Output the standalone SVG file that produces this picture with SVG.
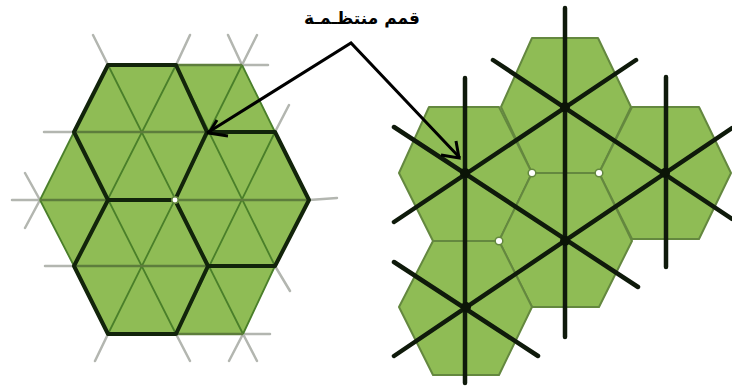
<svg xmlns="http://www.w3.org/2000/svg" width="732" height="388" viewBox="0 0 732 388">
<style>
.stub{stroke:#b3b6b0;stroke-width:2.5;fill:none;stroke-linecap:round}
.thin{stroke:#4a7f2a;stroke-width:1.8;fill:none}
.mid{stroke:#5d7d3c;stroke-width:2.6;fill:none}
.thick{stroke:#12240b;stroke-width:4;fill:none;stroke-linejoin:round;stroke-linecap:round}
.hex{fill:#8fbc55;stroke:#64883f;stroke-width:2;stroke-linejoin:round}
.bar{stroke:#0f1a0b;stroke-width:4.5;fill:none;stroke-linecap:round}
.node{fill:#0b1407}
.dot{fill:#fff;stroke:#64883f;stroke-width:1.5}
.arrow{stroke:#000;stroke-width:3;fill:none;stroke-linejoin:miter}
.label{font-family:"DejaVu Sans","Noto Sans",sans-serif;font-size:17px;font-weight:bold;fill:#000}
</style>
<g id="left-pattern">
<path class="stub" d="M108 65L93 35M176 65L190 35M242 65L228 35M242 65L257 35M242 65L268 65M275 132L289 105M74 132L44 132M40 200L12 200M40 200L25 173M40 200L25 228M309 200L337 198M74 266L45 266M275 266L290 291M108 334L95 361M176 334L190 361M243 334L229 361M243 334L257 361M243 334L270 334"/>
<polygon points="108,65 242,65 275,132 309,200 275,266 243,334 108,334 74,266 40,200 74,132" fill="#8fbc55"/>
<path class="thin" d="M108 65L243 334M176 65L275 266M74 132L176 334M242 65L108 334M176 65L74 266M275 132L176 334M40 200L74 132M40 200L74 266M242 65L275 132L309 200M243 334L275 266L309 200"/>
<path class="mid" d="M74 132H275M40 200H309M74 266H275M176 65H242M176 334H243"/>
<path class="thick" d="M207 132L176 65H108L74 132L108 200H175L207 132L275 132L309 200L275 266H208L175 200M108 200L74 266L108 334H176L208 266"/>
<circle class="dot" cx="175" cy="200" r="3.2"/>
</g>
<g id="right-pattern">
<polygon class="hex" points="532,38 598,38 631,107 599,173 532,173 501,107"/>
<polygon class="hex" points="429,107 499,107 532,173 499,241 433,241 399,173"/>
<polygon class="hex" points="632,107 699,107 731,173 699,239 632,239 599,173"/>
<polygon class="hex" points="532,173 599,173 632,241 599,307 532,307 499,241"/>
<polygon class="hex" points="433,241 499,241 532,307 499,375 433,375 399,307"/>
<path class="bar" d="M465 78V383M565 8V337M666 77V267M394 127L638 287M493 60L732 219M636 60L394 222M732 128L394 356M394 262L538 356"/>
<circle class="node" cx="465" cy="173" r="5"/>
<circle class="node" cx="565" cy="107" r="5"/>
<circle class="node" cx="665" cy="173" r="5"/>
<circle class="node" cx="565" cy="241" r="5"/>
<circle class="node" cx="466" cy="307" r="5"/>
<circle class="dot" cx="532" cy="173" r="3.8"/>
<circle class="dot" cx="599" cy="173" r="3.8"/>
<circle class="dot" cx="499" cy="241" r="3.8"/>
</g>
<g id="connectors">
<path class="arrow" d="M207 133L351 43L460 158"/>
<path class="arrow" d="M217 120L209 133L228 136"/>
<path class="arrow" d="M456 141L459 158L441 155"/>
</g>
<g id="label">
<text class="label" x="362" y="24" text-anchor="middle" direction="rtl" textLength="116" lengthAdjust="spacing">قمم منتظـمـة</text>
</g>
</svg>
